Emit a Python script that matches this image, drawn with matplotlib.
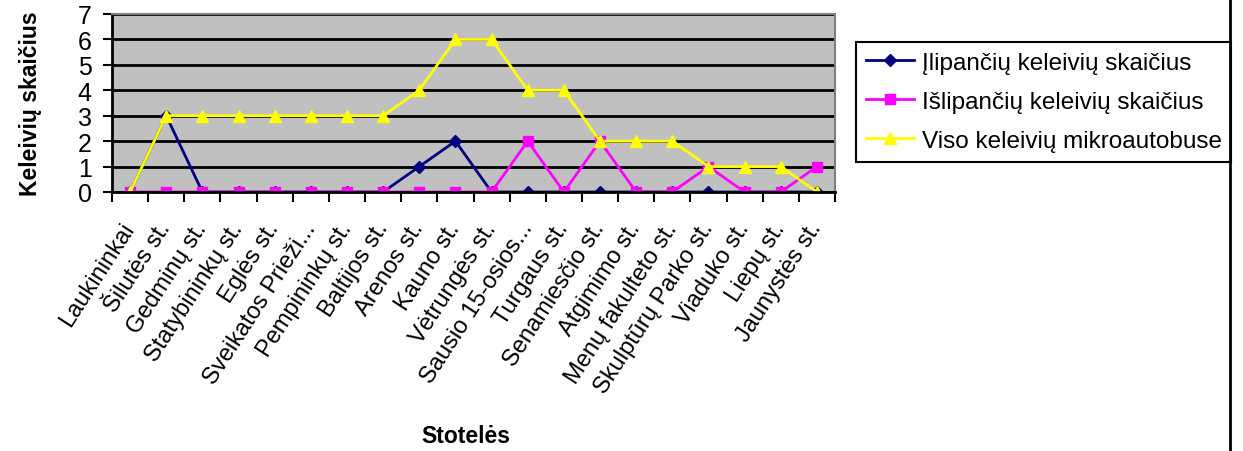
import matplotlib
matplotlib.use("Agg")
import matplotlib.pyplot as plt
from matplotlib.lines import Line2D

plt.rcParams["font.family"] = ["Liberation Sans", "DejaVu Sans"]

stops = ["Laukininkai", "Šilutės st.", "Gedminų st.", "Statybininkų st.", "Eglės st.",
         "Sveikatos Prieži...", "Pempininkų st.", "Baltijos st.", "Arenos st.", "Kauno st.",
         "Vėtrungės st.", "Sausio 15-osios...", "Turgaus st.", "Senamiesčio st.",
         "Atgimimo st.", "Menų fakulteto st.", "Skulptūrų Parko st.", "Viaduko st.",
         "Liepų st.", "Jaunystės st."]
ilipa = [0, 3, 0, 0, 0, 0, 0, 0, 1, 2, 0, 0, 0, 0, 0, 0, 0, 0, 0, 0]
islipa = [0, 0, 0, 0, 0, 0, 0, 0, 0, 0, 0, 2, 0, 2, 0, 0, 1, 0, 0, 1]
viso = [0, 3, 3, 3, 3, 3, 3, 3, 4, 6, 6, 4, 4, 2, 2, 2, 1, 1, 1, 0]
series_names = ["Įlipančių keleivių skaičius", "Išlipančių keleivių skaičius",
                "Viso keleivių mikroautobuse"]

fig = plt.figure(figsize=(12.43, 4.52), dpi=100)
ax = fig.add_axes([112/1243, 1-193/452, (835-112)/1243, (193-15)/452])
ax.set_facecolor("#c0c0c0")

x = list(range(len(stops)))
ax.plot(x, ilipa, color="#000080", marker="D", ms=6, lw=2, label=series_names[0])
ax.plot(x, islipa, color="#ff00ff", marker="s", ms=7, lw=2, label=series_names[1])
ax.plot(x, viso, color="#ffff00", marker="^", ms=9, lw=2, label=series_names[2])

ax.set_xlim(-0.5, len(stops) - 0.5)
ax.set_ylim(0, 7)
ax.set_yticks(range(8))
ax.yaxis.grid(True, color="black", lw=2)
ax.set_axisbelow(True)

ax.set_xticks([i - 0.5 for i in range(len(stops) + 1)])
ax.set_xticklabels([])
ax.set_xticks(x, minor=True)
ax.set_xticklabels(stops, minor=True, rotation=57, ha="right", va="center",
                   rotation_mode="anchor", fontsize=17)
ax.tick_params(axis="x", which="minor", length=0, pad=23)
ax.tick_params(axis="x", which="major", length=7, width=1.5, color="black")
ax.tick_params(axis="y", length=6.5, width=1.5, labelsize=18, pad=8)

for s in ["top", "right"]:
    ax.spines[s].set_color("#808080")
    ax.spines[s].set_linewidth(1.5)
for s in ["left", "bottom"]:
    ax.spines[s].set_color("black")
    ax.spines[s].set_linewidth(2)

ax.set_ylabel("Keleivių skaičius", fontsize=16.5, fontweight="bold", labelpad=26)
fig.text(466/1243, 1-437/452, "Stotelės", fontsize=16.5, fontweight="bold",
         ha="center", va="center")

leg = ax.legend(loc="upper left", bbox_to_anchor=(856/1243, 1-43/452),
                bbox_transform=fig.transFigure, fontsize=17.5, frameon=True,
                fancybox=False, edgecolor="black", framealpha=1,
                handlelength=2.0, handletextpad=0.3, labelspacing=0.7,
                borderpad=0.4, borderaxespad=0)
leg.get_frame().set_linewidth(1.5)

fig.add_artist(Line2D([1230/1243, 1230/1243], [0, 1], transform=fig.transFigure,
                      color="black", lw=2))

fig.savefig("out.png", dpi=100)
